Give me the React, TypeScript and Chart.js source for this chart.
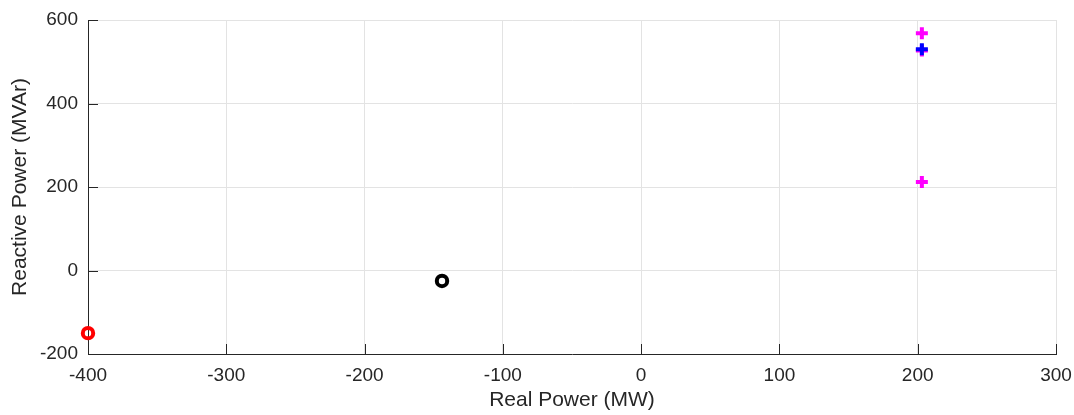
import React, { useEffect, useRef } from "react";
import { Chart, registerables } from "chart.js";

Chart.register(...registerables);

const xTicks = [-400, -300, -200, -100, 0, 100, 200, 300];
const yTicks = [-200, 0, 200, 400, 600];

const blueX = [203];
const blueY = [530];
const magentaX = [203, 203, 203];
const magentaY = [568, 527, 212];
const blackX = [-144];
const blackY = [-25];
const redX = [-400];
const redY = [-150];

const toPoints = (xs: number[], ys: number[]) => xs.map((x, i) => ({ x, y: ys[i] }));

const TEXT = "#262626";
const FONT = "'Liberation Sans', Arial, sans-serif";

const inwardTicks = {
  id: "inwardTicks",
  afterDatasetsDraw(chart: any) {
    const { ctx, chartArea, scales } = chart;
    const xs = scales.x;
    const ys = scales.y;
    ctx.save();
    ctx.strokeStyle = TEXT;
    ctx.lineWidth = 1;
    ctx.beginPath();
    xTicks.forEach((v) => {
      const px = Math.round(xs.getPixelForValue(v)) + 0.5;
      ctx.moveTo(px, chartArea.bottom);
      ctx.lineTo(px, chartArea.bottom - 10);
    });
    yTicks.forEach((v) => {
      const py = Math.round(ys.getPixelForValue(v)) + 0.5;
      ctx.moveTo(chartArea.left, py);
      ctx.lineTo(chartArea.left + 10, py);
    });
    ctx.stroke();
    ctx.restore();
  },
};

export default function App() {
  const ref = useRef<HTMLCanvasElement>(null);
  useEffect(() => {
    document.body.style.margin = "0";
    const chart = new Chart(ref.current!, {
      type: "scatter",
      data: {
        datasets: [
          {
            data: toPoints(blueX, blueY),
            pointStyle: "cross",
            radius: 6,
            borderWidth: 4,
            borderColor: "#0000ff",
            backgroundColor: "#0000ff",
            clip: false as any,
          },
          {
            data: toPoints(magentaX, magentaY),
            pointStyle: "cross",
            radius: 6,
            borderWidth: 4,
            borderColor: "#ff00ff",
            backgroundColor: "#ff00ff",
            clip: false as any,
          },
          {
            data: toPoints(blackX, blackY),
            pointStyle: "circle",
            radius: 5.2,
            borderWidth: 4,
            borderColor: "#000000",
            backgroundColor: "rgba(255,255,255,0)",
            clip: false as any,
          },
          {
            data: toPoints(redX, redY),
            pointStyle: "circle",
            radius: 5.2,
            borderWidth: 4,
            borderColor: "#ff0000",
            backgroundColor: "rgba(255,255,255,0)",
            clip: false as any,
          },
        ],
      },
      options: {
        animation: false,
        responsive: false,
        maintainAspectRatio: false,
        layout: { padding: { top: 20, right: 18, left: 0, bottom: 0 } },
        plugins: { legend: { display: false }, tooltip: { enabled: false } },
        elements: { point: { hoverRadius: 6 } },
        scales: {
          x: {
            type: "linear",
            min: -400,
            max: 300,
            afterBuildTicks: (s: any) => {
              s.ticks = xTicks.map((v) => ({ value: v }));
            },
            afterFit: (s: any) => {
              s.height = 61;
              s.paddingLeft = 0;
              s.paddingRight = 0;
            },
            ticks: {
              color: TEXT,
              font: { family: FONT, size: 19 },
              padding: 10,
              maxRotation: 0,
              autoSkip: false,
            },
            grid: { color: "#e3e3e3", drawTicks: false },
            border: { display: true, color: TEXT, width: 1 },
            title: {
              display: true,
              text: "Real Power (MW)",
              color: TEXT,
              font: { family: FONT, size: 21 },
              padding: { top: 0, bottom: 2 },
            },
          },
          y: {
            type: "linear",
            min: -200,
            max: 600,
            afterBuildTicks: (s: any) => {
              s.ticks = yTicks.map((v) => ({ value: v }));
            },
            afterFit: (s: any) => {
              s.width = 88;
              s.paddingTop = 0;
              s.paddingBottom = 0;
            },
            ticks: {
              color: TEXT,
              font: { family: FONT, size: 19 },
              padding: 10,
              autoSkip: false,
            },
            grid: { color: "#e3e3e3", drawTicks: false },
            border: { display: true, color: TEXT, width: 1 },
            title: {
              display: true,
              text: "Reactive Power (MVAr)",
              color: TEXT,
              font: { family: FONT, size: 21 },
              padding: { top: 8, bottom: 0 },
            },
          },
        },
      },
      plugins: [inwardTicks],
    });
    return () => chart.destroy();
  }, []);
  return (
    <div style={{ width: 1074, height: 415, background: "#fff" }}>
      <canvas ref={ref} width={1074} height={415} style={{ display: "block" }} />
    </div>
  );
}
